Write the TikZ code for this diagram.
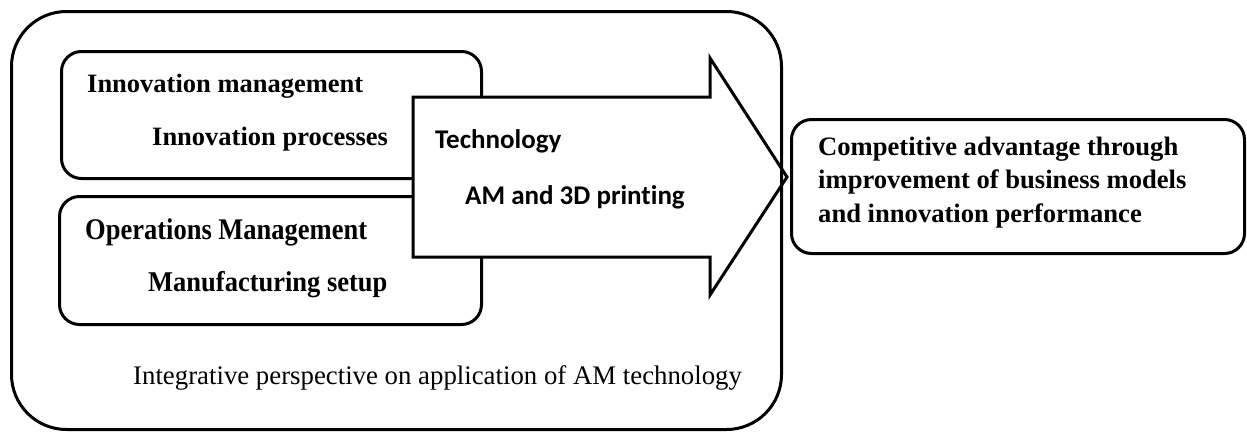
\documentclass[tikz,border=0pt]{standalone}
\usepackage{graphicx}
\usepackage{fontspec}
\setmainfont{Liberation Serif}
\newfontfamily\calibrifont[Ligatures=NoCommon]{Carlito}
\begin{document}
\begin{tikzpicture}[x=1pt,y=-1pt,
  box/.style={draw,line width=3pt,rounded corners=20pt,fill=white,inner sep=0pt,anchor=north west},
  lbl/.style={inner sep=0pt,anchor=base west,font=\fontsize{26.5}{30}\selectfont\bfseries},
  albl/.style={inner sep=0pt,anchor=base west,font=\fontsize{27}{30}\selectfont\calibrifont\bfseries}]
\useasboundingbox (0,0) rectangle (1247,432);
% inner boxes
\node[box,minimum width=420pt,minimum height=127pt] (inno) at (60,50) {};
\node[box,minimum width=422pt,minimum height=128pt] (ops) at (58,195) {};
\node[lbl] (t1) at (87,92) {Innovation management};
\node[lbl] (t2) at (152,145) {Innovation processes};
\node[lbl] (t3) at (85,239) {\scalebox{1}[1.13]{Operations Management}};
\node[lbl] (t4) at (148,291) {\scalebox{1}[1.08]{Manufacturing setup}};
% arrow
\coordinate (tip) at (787,177);
\draw[line width=3pt,fill=white,line join=miter] (413,97) -- (710,97) -- (710,58) -- (tip) -- (710,295) -- (710,257) -- (413,257) -- cycle;
\node[albl] (t5) at (435,148) {Technology};
\node[albl] (t6) at (465,204) {AM and 3D printing};
% outer box
\node[draw,line width=3pt,rounded corners=55pt,inner sep=0pt,anchor=north west,minimum width=770pt,minimum height=418pt] (outer) at (10,10) {};
\node[inner sep=0pt,anchor=base west,font=\fontsize{26.8}{30}\selectfont] (t7) at (133,384) {Integrative perspective on application of AM technology};
% right box
\node[box,minimum width=453pt,minimum height=134pt] (res) at (790,118) {};
\node[inner sep=0pt,anchor=base west,align=left,font=\fontsize{26.6}{33.5}\selectfont\bfseries] (t8) at (818,222) {Competitive advantage through\\improvement of business models\\and innovation performance};
\end{tikzpicture}
\end{document}
